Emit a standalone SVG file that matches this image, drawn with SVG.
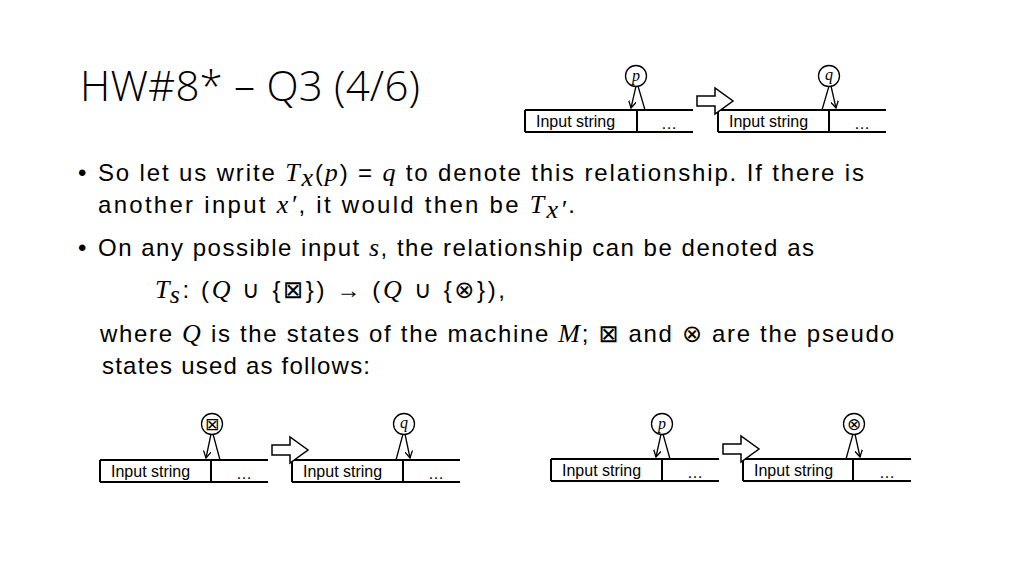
<svg xmlns="http://www.w3.org/2000/svg" width="1024" height="576" viewBox="0 0 1024 576">
<style>
.t{font-family:"Liberation Sans",Arial,sans-serif;font-size:24px;fill:#000}
.m{font-family:"Liberation Serif","DejaVu Serif",serif;font-style:italic;font-size:26px}
.s{font-family:"DejaVu Sans",sans-serif;font-style:normal;font-size:24px}
.tp{fill:none;stroke:#000;stroke-width:2}
.lb{font-family:"Liberation Sans",Arial,sans-serif;font-size:16px}
.hd{fill:#fff;stroke:#000;stroke-width:1.3}
.hl{font-family:"Liberation Serif",serif;font-style:italic;font-size:16px}
.ba{fill:#fff;stroke:#000;stroke-width:1.5}
</style>
<defs>
<marker id="ah" markerWidth="8" markerHeight="8" refX="7" refY="4" orient="auto" markerUnits="userSpaceOnUse"><path d="M0,0 L7,4 L0,8" fill="none" stroke="#000" stroke-width="1.3"/></marker>
<g id="tape">
<path class="tp" d="M0,0 H168 M0,22 H168 M0,0 V22"/>
<text class="lb" x="11" y="17">Input string</text>
<text class="lb" x="136" y="19">…</text>
</g>
<path id="barrow" class="ba" d="M0,-5 H18 V-13 L36,0 L18,13 V5 H0 Z"/>
</defs>
<text x="80" y="101" textLength="340" style="font-family:'Open Sans','Liberation Sans',sans-serif;font-weight:300;font-size:42px">HW#8* – Q3 (4/6)</text>
<g id="body" class="t">
<text x="78" y="181">•</text>
<text x="98" y="181" textLength="766">So let us write <tspan class="m">T</tspan><tspan class="m" font-size="17" dy="5">x</tspan><tspan dy="-5">(</tspan><tspan class="m">p</tspan>) = <tspan class="m">q</tspan> to denote this relationship.  If there is</text>
<text x="98" y="213" textLength="477">another input <tspan class="m">x′</tspan>, it would then be <tspan class="m">T</tspan><tspan class="m" font-size="17" dy="5">x′</tspan><tspan dy="-5">.</tspan></text>
<text x="78" y="256">•</text>
<text x="98" y="256" textLength="716">On any possible input <tspan class="m">s</tspan>, the relationship can be denoted as</text>
<text x="155" y="298" textLength="350"><tspan class="m">T</tspan><tspan class="m" font-size="17" dy="5">s</tspan><tspan dy="-5">: (</tspan><tspan class="m">Q</tspan> ∪ {<tspan class="s">⊠</tspan>}) → (<tspan class="m">Q</tspan> ∪ {<tspan class="s">⊗</tspan>}),</text>
<text x="100" y="342" textLength="794">where <tspan class="m">Q</tspan> is the states of the machine <tspan class="m">M</tspan>; <tspan class="s">⊠</tspan> and <tspan class="s">⊗</tspan> are the pseudo</text>
<text x="102" y="374" textLength="268">states used as follows:</text>
</g>
<g id="tapes">
<use href="#tape" x="525" y="110"/><path class="tp" d="M637,110 V132"/>
<use href="#tape" x="718" y="110"/><path class="tp" d="M829,110 V132"/>
<use href="#tape" x="100" y="460"/><path class="tp" d="M211,460 V482"/>
<use href="#tape" x="292" y="460"/><path class="tp" d="M403,460 V482"/>
<use href="#tape" x="551" y="459"/><path class="tp" d="M662,459 V481"/>
<use href="#tape" x="743" y="459"/><path class="tp" d="M853,459 V481"/>
</g>
<g id="connectors" fill="none" stroke="#000" stroke-width="1.3">
<path d="M636,86 L631,108" marker-end="url(#ah)"/><path d="M638,86 L645,110"/>
<path d="M829,86 L822,110"/><path d="M831,86 L836,108" marker-end="url(#ah)"/>
<path d="M211,434 L206,458" marker-end="url(#ah)"/><path d="M213,434 L220,460"/>
<path d="M403,434 L396,460"/><path d="M405,434 L410,458" marker-end="url(#ah)"/>
<path d="M661,434 L656,457" marker-end="url(#ah)"/><path d="M663,434 L670,459"/>
<path d="M853,434 L846,459"/><path d="M855,434 L860,457" marker-end="url(#ah)"/>
</g>
<g id="arrows">
<use href="#barrow" x="697" y="101"/>
<use href="#barrow" x="272" y="450"/>
<use href="#barrow" x="723" y="449"/>
</g>
<g id="heads">
<g id="h1"><circle class="hd" cx="636" cy="76" r="10.5"/><text class="hl" x="636" y="81" text-anchor="middle">p</text></g>
<g id="h2"><circle class="hd" cx="829" cy="76" r="10.5"/><text class="hl" x="829" y="80" text-anchor="middle">q</text></g>
<g id="h3"><circle class="hd" cx="212" cy="424" r="10.5"/><text x="212" y="430" text-anchor="middle" style="font-family:'DejaVu Sans',sans-serif;font-size:17px">⊠</text></g>
<g id="h4"><circle class="hd" cx="404" cy="424" r="10.5"/><text class="hl" x="404" y="428" text-anchor="middle">q</text></g>
<g id="h5"><circle class="hd" cx="662" cy="424" r="10.5"/><text class="hl" x="662" y="429" text-anchor="middle">p</text></g>
<g id="h6"><circle class="hd" cx="854" cy="424" r="10.5"/><text x="854" y="430" text-anchor="middle" style="font-family:'DejaVu Sans',sans-serif;font-size:17px">⊗</text></g>
</g>
</svg>
